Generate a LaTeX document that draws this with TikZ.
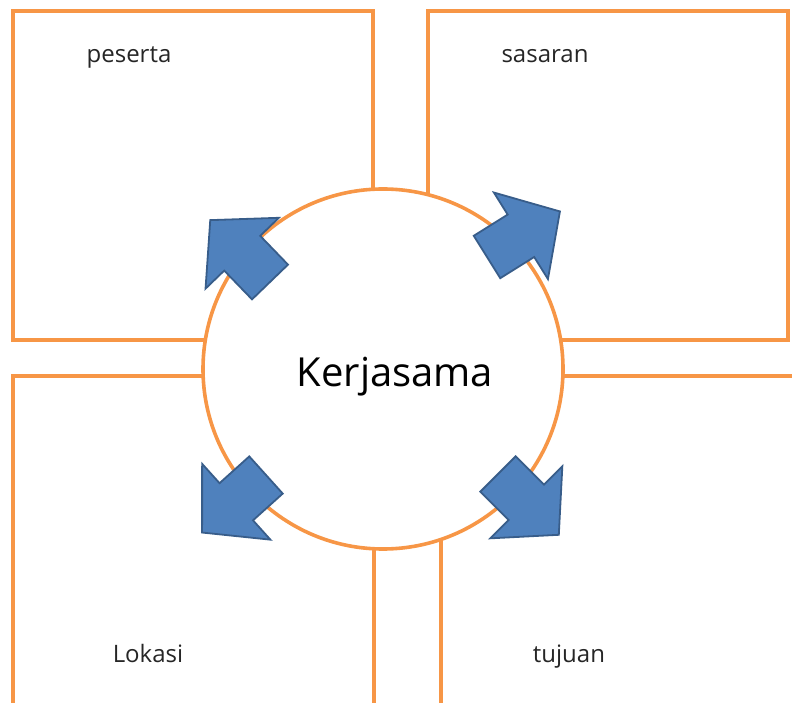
\documentclass[tikz,border=0pt]{standalone}
\usepackage{fontspec}
\setmainfont{Open Sans}
\definecolor{boxorange}{HTML}{F79646}
\definecolor{arrowfill}{HTML}{4F81BD}
\definecolor{arrowline}{HTML}{385D8A}
\definecolor{labelgray}{HTML}{262626}
\tikzset{
  boxline/.style={draw=boxorange, line width=3.6pt},
  blockarrow/.style={fill=arrowfill, draw=arrowline, line width=1.8pt, line join=miter},
  smalllabel/.style={font=\fontsize{24}{28}\selectfont, text=labelgray, anchor=base, inner sep=0pt},
  biglabel/.style={font=\fontsize{40}{46}\selectfont, text=black, anchor=base, inner sep=0pt}
}
\newcommand{\bigarrow}[3]{%
  \begin{scope}[shift={(#1,#2)}, rotate=#3]
    \fill[blockarrow] (0,-25) -- (40,-25) -- (40,-51) -- (86,0) -- (40,51) -- (40,25) -- (0,25) -- cycle;
  \end{scope}}
\begin{document}
\begin{tikzpicture}[x=1pt,y=1pt]
  \useasboundingbox (0,0) rectangle (792,702);
  \clip (0,0) rectangle (792,702);
  % boxes
  \draw[boxline] (13,691) rectangle (373,362);
  \draw[boxline] (428,691) rectangle (788,362);
  \draw[boxline] (13,-20) rectangle (374,326);
  \draw[boxline] (441,-20) rectangle (820,326);
  % central circle
  \node[circle, draw=boxorange, fill=white, line width=3.6pt, minimum size=360pt, inner sep=0pt] (hub) at (383,333) {};
  \node[biglabel] (kerja) at (395,315) {Kerjasama};
  % arrows
  \bigarrow{270}{420}{134}
  \bigarrow{487}{445}{32}
  \bigarrow{266}{227}{222}
  \bigarrow{498}{228}{-45}
  % labels
  \node[smalllabel] (peserta) at (129,639) {peserta};
  \node[smalllabel] (sasaran) at (545,639) {sasaran};
  \node[smalllabel] (lokasi) at (148,40) {Lokasi};
  \node[smalllabel] (tujuan) at (569,40) {tujuan};
\end{tikzpicture}
\end{document}
